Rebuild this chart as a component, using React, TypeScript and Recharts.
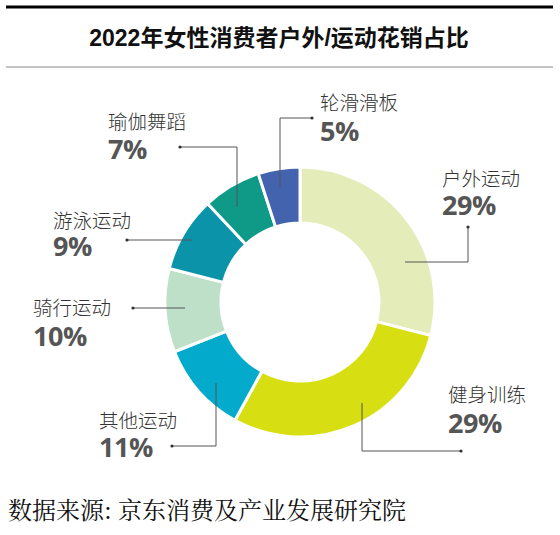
import React from 'react';
import { PieChart, Pie, Cell } from 'recharts';

// ---- data ----
const categories = ['户外运动', '健身训练', '其他运动', '骑行运动', '游泳运动', '瑜伽舞蹈', '轮滑滑板'];
const shares = [29, 29, 11, 10, 9, 7, 5];
const sliceColors = ['#e4edb9', '#d7df13', '#03aacb', '#bedfc8', '#0b93aa', '#0e9a86', '#4363ae'];
const title = '2022年女性消费者户外/运动花销占比';
const source = '数据来源: 京东消费及产业发展研究院';

// ---- layout (offsets relative to the pie centre) ----
type Lay = { tx: number; nameY: number; pctY: number; line: [number, number][] };
const labelLayout: Lay[] = [
  { tx: 142, nameY: -125, pctY: -87, line: [[105, -40], [168, -40], [168, -75]] },
  { tx: 148, nameY: 91, pctY: 131, line: [[62, 101], [62, 149], [161, 149]] },
  { tx: -201, nameY: 117.5, pctY: 155, line: [[-84, 81], [-84, 144], [-128, 144]] },
  { tx: -267, nameY: 4.5, pctY: 44, line: [[-115, 6], [-167, 6]] },
  { tx: -247, nameY: -83, pctY: -46, line: [[-108, -62], [-173, -62]] },
  { tx: -192, nameY: -182, pctY: -143, line: [[-63, -95], [-63, -155], [-120, -155]] },
  { tx: 20, nameY: -201, pctY: -161, line: [[-20, -115], [-20, -184], [12, -184]] },
];

const W = 560;
const H = 535;
const PIE_CX = 300;
const PIE_CY = 302;

const data = categories.map((name, i) => ({ name, value: shares[i] }));

const CJK = '"Noto Sans CJK SC", "Noto Sans", sans-serif';

const renderLabel = (props: any) => {
  const { index } = props;
  const cx = typeof props.cx === 'number' ? props.cx : PIE_CX;
  const cy = typeof props.cy === 'number' ? props.cy : PIE_CY;
  const lay = labelLayout[index];
  if (!lay) return null;
  const pts = lay.line.map(([dx, dy]) => `${cx + dx},${cy + dy}`).join(' ');
  const end = lay.line[lay.line.length - 1];
  return (
    <g key={`lbl-${index}`}>
      <polyline points={pts} fill="none" stroke="#555" strokeWidth={1} />
      <circle cx={cx + end[0]} cy={cy + end[1]} r={1.6} fill="#333" />
      <text
        x={cx + lay.tx}
        y={cy + lay.nameY}
        dominantBaseline="central"
        fontFamily={CJK}
        fontWeight={300}
        fontSize={19.5}
        fill="#333"
      >
        {categories[index]}
      </text>
      <text
        x={cx + lay.tx}
        y={cy + lay.pctY}
        fontFamily='"Open Sans", "Noto Sans", sans-serif'
        fontWeight={700}
        fontSize={27}
        letterSpacing={-0.5}
        fill="#555"
      >
        {`${shares[index]}%`}
      </text>
    </g>
  );
};

export default function App() {
  return (
    <div style={{ position: 'absolute', left: 0, top: 0, width: W, height: H, background: '#fff' }}>
      <svg width={W} height={H} style={{ position: 'absolute', left: 0, top: 0 }}>
        <rect x={6} y={5.5} width={547} height={3} fill="#000" />
        <text
          x={279}
          y={46}
          textAnchor="middle"
          fontFamily={'"Liberation Sans", "Noto Sans CJK SC", sans-serif'}
          fontWeight={600}
          fontSize={23}
          fill="#111"
        >
          {title}
        </text>
        <rect x={6} y={66.5} width={547} height={1} fill="#8a8a8a" />
        <text
          x={8}
          y={519}
          fontFamily={'"Noto Serif CJK SC", serif'}
          fontSize={24}
          fill="#111"
        >
          {source}
        </text>
      </svg>
      <div style={{ position: 'absolute', left: 0, top: 0 }}>
        <PieChart width={W} height={H} margin={{ top: 0, right: 0, bottom: 0, left: 0 }}>
          <Pie
            data={data}
            dataKey="value"
            nameKey="name"
            cx={PIE_CX}
            cy={PIE_CY}
            innerRadius={79}
            outerRadius={135}
            startAngle={90}
            endAngle={-270}
            stroke="#fff"
            strokeWidth={3}
            label={renderLabel}
            labelLine={false}
            isAnimationActive={false}
          >
            {data.map((d, i) => (
              <Cell key={d.name} fill={sliceColors[i]} />
            ))}
          </Pie>
        </PieChart>
      </div>
    </div>
  );
}
